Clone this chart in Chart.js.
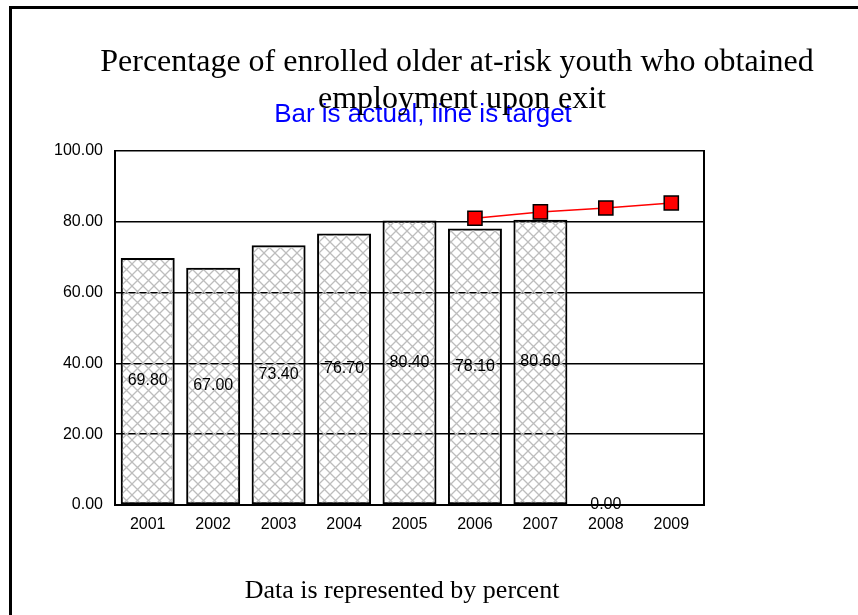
<!DOCTYPE html>
<html>
<head>
<meta charset="utf-8">
<script src="https://cdn.jsdelivr.net/npm/chart.js@4"></script>
<style>
  html, body { margin: 0; padding: 0; background: #fff; }
  canvas { display: block; }
</style>
</head>
<body>
<canvas id="jobChart" width="858" height="615"></canvas>
<script>
// chart data
const years = ['2001', '2002', '2003', '2004', '2005', '2006', '2007', '2008', '2009'];
const actual = [69.8, 67.0, 73.4, 76.7, 80.4, 78.1, 80.6, 0, null];
const target = [null, null, null, null, null, 81.0, 82.8, 83.9, 85.3];
const yTicks = [0, 20, 40, 60, 80, 100];

const titleLines = ['Percentage of enrolled older at-risk youth who obtained', 'employment upon exit'];
const subTitle = 'Bar is actual, line is target';
const footNote = 'Data is represented by percent';

// grey cross-hatch used to fill the bars
function makeHatch() {
    const c = document.createElement('canvas');
    c.width = 11; c.height = 11;
    const g = c.getContext('2d');
    g.strokeStyle = '#bdbdbd';
    g.lineWidth = 1.3;
    g.beginPath();
    g.moveTo(0, 0); g.lineTo(11, 11);
    g.moveTo(0, 11); g.lineTo(11, 0);
    g.stroke();
    return g.createPattern(c, 'repeat');
}

const pagePlugin = {
    id: 'page',
    beforeDraw(chart) {
        const ctx = chart.ctx;
        ctx.save();
        ctx.fillStyle = '#fff';
        ctx.fillRect(0, 0, chart.width, chart.height);
        // outer frame (only top and left visible in the window)
        ctx.fillStyle = '#000';
        ctx.fillRect(9, 6, chart.width, 3);
        ctx.fillRect(9, 6, 3, chart.height);
        ctx.restore();
    },
    afterDatasetsDraw(chart) {
        const ctx = chart.ctx;
        const area = chart.chartArea;
        ctx.save();
        // right edge of the plot box
        ctx.strokeStyle = '#000';
        ctx.lineWidth = 2;
        ctx.beginPath();
        ctx.moveTo(area.right, area.top - 1);
        ctx.lineTo(area.right, area.bottom);
        ctx.stroke();

        // value labels in the middle of each bar
        const meta = chart.getDatasetMeta(0);
        ctx.fillStyle = '#000';
        ctx.font = '16px "Liberation Sans", Arial, sans-serif';
        ctx.textAlign = 'center';
        ctx.textBaseline = 'middle';
        meta.data.forEach((bar, i) => {
            if (actual[i] === null) return;
            const mid = (bar.y + bar.base) / 2;
            ctx.fillText(actual[i].toFixed(2), bar.x, mid);
        });
        ctx.restore();
    },
    afterDraw(chart) {
        const ctx = chart.ctx;
        ctx.save();
        ctx.textAlign = 'center';
        ctx.textBaseline = 'alphabetic';

        ctx.fillStyle = '#0000ff';
        ctx.font = '26px "Liberation Sans", Arial, sans-serif';
        ctx.fillText(subTitle, 423, 122);

        ctx.fillStyle = '#000';
        ctx.font = '32px "Liberation Serif", "Times New Roman", serif';
        ctx.fillText(titleLines[0], 457, 71);
        ctx.fillText(titleLines[1], 462, 108);

        ctx.font = '26px "Liberation Serif", "Times New Roman", serif';
        ctx.fillText(footNote, 402, 598);
        ctx.restore();
    }
};

const ctx = document.getElementById('jobChart').getContext('2d');
const hatch = makeHatch();

new Chart(ctx, {
    type: 'bar',
    data: {
        labels: years,
        datasets: [
            {
                label: 'Actual',
                data: actual,
                backgroundColor: hatch,
                borderColor: '#000',
                borderWidth: (c) => (c.raw ? 2 : 0),
                borderSkipped: false,
                barPercentage: 0.825,
                categoryPercentage: 1.0,
                order: 2
            },
            {
                type: 'line',
                label: 'Target',
                data: target,
                borderColor: '#ff0000',
                borderWidth: 1.5,
                pointStyle: 'rect',
                pointRadius: 10,
                pointBackgroundColor: '#ff0000',
                pointBorderColor: '#000',
                pointBorderWidth: 1.5,
                tension: 0,
                order: 1
            }
        ]
    },
    options: {
        responsive: false,
        animation: false,
        devicePixelRatio: 1,
        layout: { padding: { left: 0, top: 151, right: 154, bottom: 0 } },
        plugins: {
            legend: { display: false },
            title: { display: false },
            tooltip: { enabled: false }
        },
        scales: {
            x: {
                grid: { display: false, drawTicks: false },
                border: { color: '#000', width: 2 },
                ticks: {
                    color: '#000',
                    font: { family: '"Liberation Sans", Arial, sans-serif', size: 16 },
                    padding: 10,
                    maxRotation: 0
                },
                afterFit(scale) { scale.height = 110; }
            },
            y: {
                min: 0,
                max: 100,
                afterBuildTicks(scale) {
                    scale.ticks = yTicks.map(v => ({ value: v }));
                },
                grid: { color: '#000', lineWidth: 1.5, drawTicks: false },
                border: { color: '#000', width: 2 },
                ticks: {
                    color: '#000',
                    font: { family: '"Liberation Sans", Arial, sans-serif', size: 16 },
                    padding: 12,
                    callback: (v) => Number(v).toFixed(2)
                },
                afterFit(scale) { scale.width = 115; }
            }
        }
    },
    plugins: [pagePlugin]
});
</script>
</body>
</html>
